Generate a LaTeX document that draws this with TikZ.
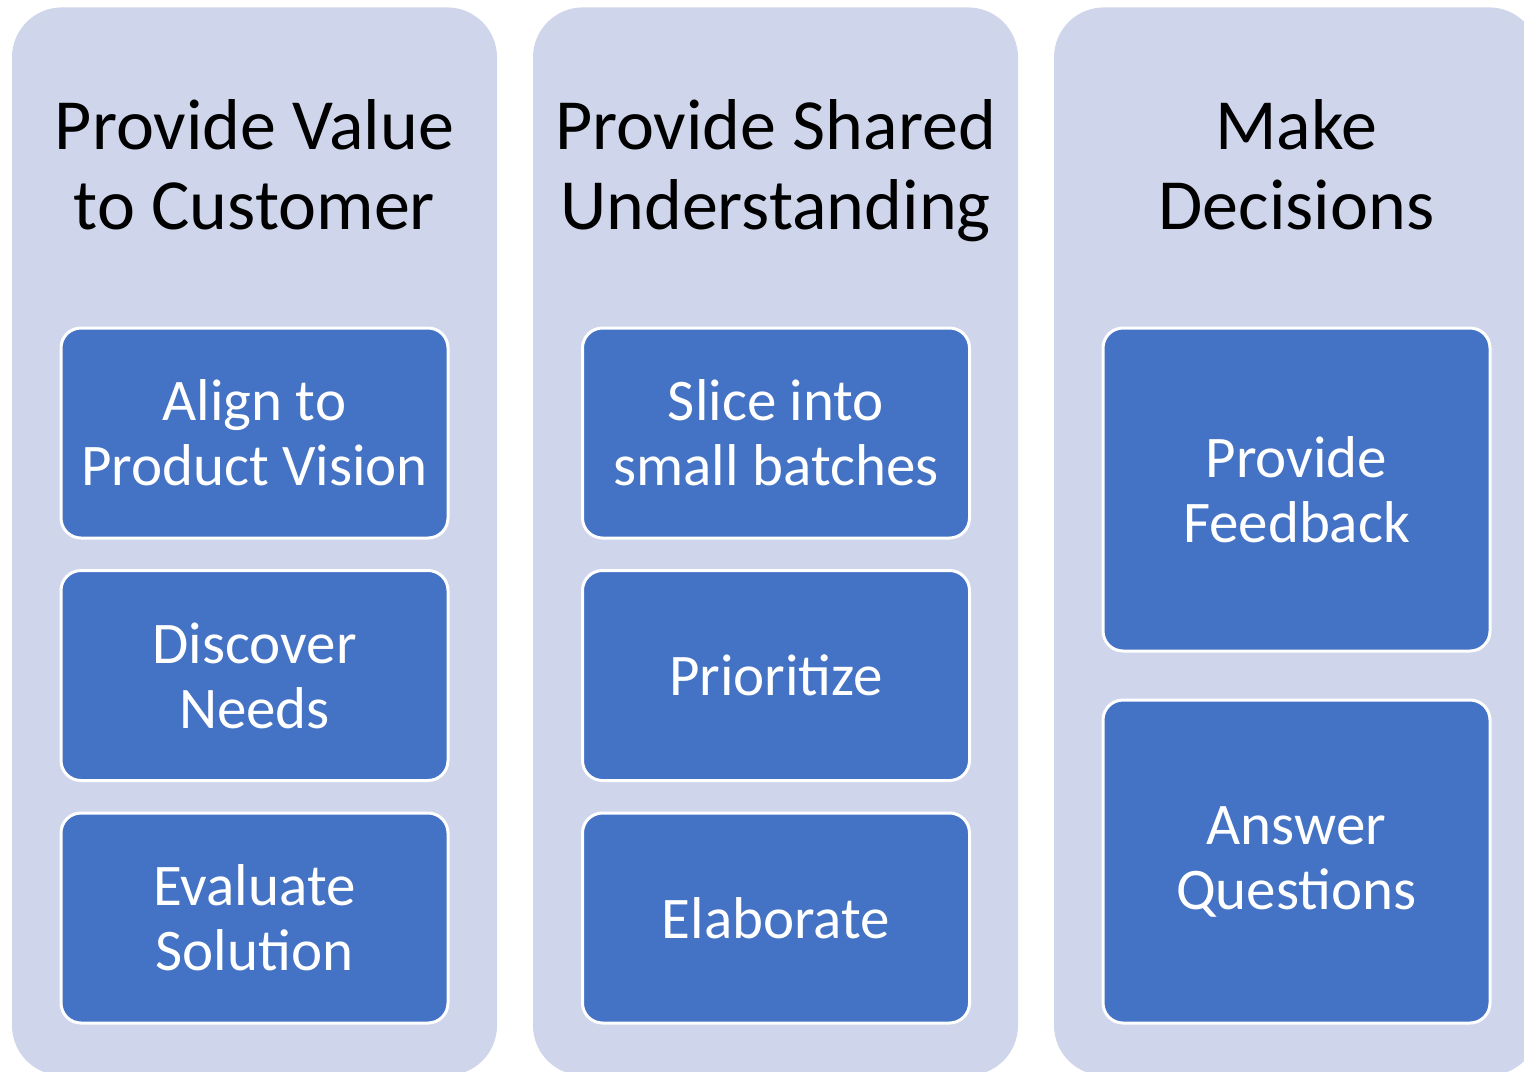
\documentclass[tikz,border=0pt]{standalone}
\usepackage{fontspec}
\setmainfont{Carlito}
\definecolor{lav}{HTML}{CFD5EA}
\definecolor{blu}{HTML}{4472C4}
\begin{document}
\begin{tikzpicture}[x=0.5pt,y=-0.5pt,
 colbox/.style={fill=lav, rounded corners=25pt, draw=none, minimum width=242.5pt, minimum height=534pt, anchor=north, inner sep=0pt},
 title/.style={font=\fontsize{36}{40}\selectfont, align=center, text=black, inner sep=0pt, anchor=north},
 item/.style={fill=blu, draw=white, line width=1.5pt, rounded corners=10pt, minimum width=193.5pt, text=white, font=\fontsize{29.5}{32.5}\selectfont, align=center, inner sep=0pt},
 short/.style={item, minimum height=105pt},
 tall/.style={item, minimum height=161.5pt},
]
\useasboundingbox (0,0) rectangle (1524,1071);
\clip (0,0) rectangle (1524,1071);
\fill[white] (0,0) rectangle (1524,1071);
\node[colbox] (c1) at (254.5,7) {};
\node[colbox] (c2) at (775.5,7) {};
\node[colbox] (c3) at (1296.5,7) {};
\node[title] (t1) at (254.5,99) {Provide Value\\to Customer};
\node[title] (t2) at (775.5,99) {Provide Shared\\Understanding};
\node[title] (t3) at (1296.5,99) {Make\\Decisions};
\node[short] (a1) at (254.5,433) {Align to\\Product Vision};
\node[short] (a2) at (254.5,675.5) {Discover\\Needs};
\node[short] (a3) at (254.5,918) {Evaluate\\Solution};
\node[short] (b1) at (776,433) {Slice into\\small batches};
\node[short] (b2) at (776,675.5) {Prioritize};
\node[short] (b3) at (776,918) {Elaborate};
\node[tall] (d1) at (1296.5,489.5) {Provide\\Feedback};
\node[tall] (d2) at (1296.5,861.5) {Answer\\Questions};
\end{tikzpicture}
\end{document}
